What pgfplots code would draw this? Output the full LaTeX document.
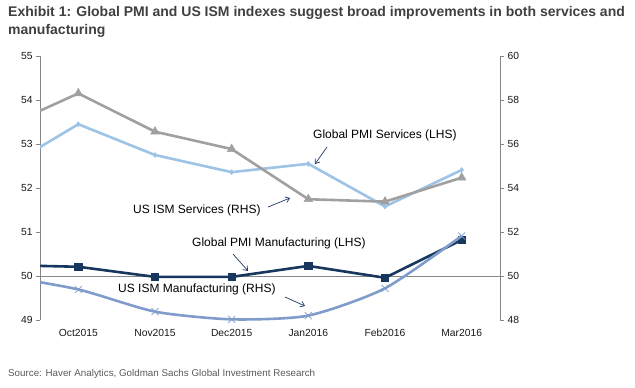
\documentclass[border=0pt]{standalone}
\usepackage{fontspec}
\setmainfont{Liberation Sans}
\usepackage{pgfplots}
\pgfplotsset{compat=1.18}
\usetikzlibrary{arrows.meta}
\definecolor{pmis}{HTML}{9DC3E6}
\definecolor{isms}{HTML}{A0A0A0}
\definecolor{pmim}{HTML}{17375E}
\definecolor{ismm}{HTML}{7F9CCB}
\definecolor{axisgray}{HTML}{878787}
\definecolor{titlegray}{HTML}{404040}
\definecolor{srcgray}{HTML}{595959}
\definecolor{arrowblue}{HTML}{1F3864}
\begin{document}
\begin{tikzpicture}[x=1bp,y=1bp]
\path[use as bounding box] (0,0) rectangle (635,-387);
\node[anchor=west, inner sep=0pt, text=titlegray, font=\bfseries\fontsize{14bp}{16bp}\selectfont] at (8,-13) {Exhibit 1: Global PMI and US ISM indexes suggest broad improvements in both services and};
\node[anchor=west, inner sep=0pt, text=titlegray, font=\bfseries\fontsize{14bp}{16bp}\selectfont] at (8,-31) {manufacturing};
\node[anchor=west, inner sep=0pt, text=srcgray, font=\fontsize{9.8bp}{12bp}\selectfont] at (8,-374) {Source: Haver Analytics, Goldman Sachs Global Investment Research};

\begin{axis}[at={(40bp,-320bp)}, anchor=south west, scale only axis,
  width=460bp, height=264bp,
  xmin=-0.5, xmax=5.5, ymin=49, ymax=55,
  axis y line*=left, axis x line*=bottom,
  x axis line style={draw=none},
  xtick={0,1,2,3,4,5},
  xticklabels={Oct2015,Nov2015,Dec2015,Jan2016,Feb2016,Mar2016},
  x tick style={draw=none},
  ytick={49,50,51,52,53,54,55},
  y axis line style={axisgray, line width=0.8bp},
  y tick style={axisgray, line width=0.8bp},
  tick align=outside, major tick length=4bp,
  ticklabel style={font=\fontsize{10.3bp}{12bp}\selectfont, text=black!90},
  xticklabel style={yshift=-2bp},
  /pgf/number format/assume math mode=true,
  clip=true]
\draw[axisgray, line width=0.8bp] (axis cs:-0.5,50) -- (axis cs:5.5,50);
\draw[axisgray, line width=0.8bp] (axis cs:0.5,50) ++(0,-1bp) -- ++(0,6bp);
\draw[axisgray, line width=0.8bp] (axis cs:1.5,50) ++(0,-1bp) -- ++(0,6bp);
\draw[axisgray, line width=0.8bp] (axis cs:2.5,50) ++(0,-1bp) -- ++(0,6bp);
\draw[axisgray, line width=0.8bp] (axis cs:3.5,50) ++(0,-1bp) -- ++(0,6bp);
\draw[axisgray, line width=0.8bp] (axis cs:4.5,50) ++(0,-1bp) -- ++(0,6bp);
\addplot[pmis, line width=2.6bp, mark=diamond*, mark size=2.5bp, mark options={fill=pmis, line width=0.5bp}] coordinates {
(-1,52.41) (0,53.45) (1,52.75) (2,52.36) (3,52.55) (4,51.58) (5,52.41)};
\addplot[pmim, line width=2.6bp, mark=square*, mark size=3.6bp, mark options={fill=pmim, line width=0.5bp}] coordinates {
(-1,50.25) (0,50.21) (1,49.98) (2,49.98) (3,50.23) (4,49.96) (5,50.82)};
\end{axis}

\begin{axis}[at={(40bp,-320bp)}, anchor=south west, scale only axis,
  width=460bp, height=264bp,
  xmin=-0.5, xmax=5.5, ymin=48, ymax=60,
  axis y line*=right, axis x line=none,
  ytick={48,50,52,54,56,58,60},
  y axis line style={axisgray, line width=0.8bp},
  y tick style={axisgray, line width=0.8bp},
  tick align=outside, major tick length=4bp,
  ticklabel style={font=\fontsize{10.3bp}{12bp}\selectfont, text=black!90},
  /pgf/number format/assume math mode=true,
  clip=true]
\addplot[isms, line width=2.6bp, mark=triangle*, mark size=5bp, mark options={fill=isms, line width=0.5bp}] coordinates {
(-1,56.72) (0,58.30) (1,56.56) (2,55.77) (3,53.49) (4,53.38) (5,54.47)};
\addplot[ismm, line width=2.6bp, smooth, tension=0.4, mark=x, mark size=5bp, mark options={ismm, line width=0.7bp}] coordinates {
(-1,50.01) (0,49.39) (1,48.38) (2,48.03) (3,48.20) (4,49.44) (5,51.82)};
\end{axis}

\begin{scope}[font=\fontsize{12bp}{14bp}\selectfont]
\node[anchor=west, inner sep=0pt] at (313,-135) {Global PMI Services (LHS)};
\node[anchor=west, inner sep=0pt] at (133,-210) {US ISM Services (RHS)};
\node[anchor=west, inner sep=0pt] at (192,-243) {Global PMI Manufacturing (LHS)};
\node[anchor=west, inner sep=0pt] at (118,-289) {US ISM Manufacturing (RHS)};
\end{scope}
\begin{scope}[arrowblue, line width=0.7bp, -{Straight Barb[length=4bp,width=6bp]}]
\draw (327,-147) -- (315,-164);
\draw (268,-207) -- (290,-198);
\draw (233,-254) -- (248,-271);
\draw (285,-297) -- (305,-306);
\end{scope}
\end{tikzpicture}
\end{document}
